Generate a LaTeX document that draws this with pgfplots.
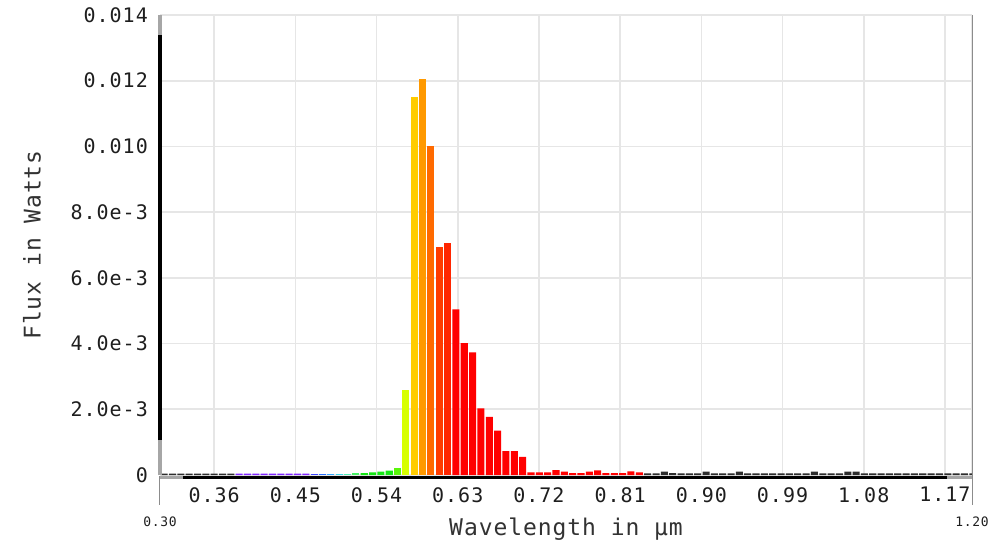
\documentclass[border=0pt]{standalone}
\usepackage{pgfplots}
\pgfplotsset{compat=1.18}
\usepackage{fontspec}
\setmainfont{DejaVu Sans Mono}
\newfontfamily\tickf[LetterSpace=5]{DejaVu Sans Mono}
\newfontfamily\labf[LetterSpace=4]{DejaVu Sans Mono}
\definecolor{gridgray}{RGB}{230,230,230}
\definecolor{tickc}{RGB}{30,30,30}
\definecolor{labc}{RGB}{50,50,50}
\definecolor{cdark}{RGB}{45,45,45}
\definecolor{cviolet}{RGB}{130,40,255}
\definecolor{cblueA}{RGB}{60,70,255}
\definecolor{cblueB}{RGB}{40,110,255}
\definecolor{csky}{RGB}{50,165,255}
\definecolor{ccyan}{RGB}{60,215,230}
\definecolor{caqua}{RGB}{80,240,180}
\definecolor{clgreen}{RGB}{70,240,100}
\definecolor{cgreen}{RGB}{20,230,20}
\definecolor{clime}{RGB}{90,245,10}
\definecolor{cyg}{RGB}{215,255,0}
\definecolor{cyel}{RGB}{255,204,0}
\definecolor{corg}{RGB}{255,153,0}
\definecolor{cdorg}{RGB}{255,106,0}
\definecolor{cro}{RGB}{255,60,0}
\definecolor{cro2}{RGB}{255,38,0}
\definecolor{cred}{RGB}{255,0,0}
\begin{document}
\begin{tikzpicture}
\path[use as bounding box] (-160pt,-69pt) rectangle (830pt,475pt);
\begin{axis}[
  at={(0pt,0pt)}, anchor=south west,
  scale only axis, width=812pt, height=460pt,
  xmin=0.30, xmax=1.20, ymin=0, ymax=0.014,
  axis line style={draw=none},
  major tick length=0pt,
  grid=major,
  grid style={color=gridgray, line width=1.6pt},
  xtick={0.36,0.45,0.54,0.63,0.72,0.81,0.90,0.99,1.08,1.17},
  xticklabels={0.36,0.45,0.54,0.63,0.72,0.81,0.90,0.99,1.08,1.17},
  extra x ticks={1.2}, extra x tick labels={},
  ytick={0,0.002,0.004,0.006,0.008,0.010,0.012,0.014},
  yticklabels={0,2.0e-3,4.0e-3,6.0e-3,8.0e-3,0.010,0.012,0.014},
  scaled y ticks=false, scaled x ticks=false,
  xticklabel style={font=\tickf\fontsize{20}{24}\selectfont, text=tickc, anchor=north, inner sep=0pt, yshift=-12pt},
  yticklabel style={font=\tickf\fontsize{20}{24}\selectfont, text=tickc, anchor=east, inner sep=0pt, xshift=-12pt},
  ybar, bar width=0.0078, bar shift=0pt,
]
\addplot[fill=cdark, draw=none] coordinates {(0.3046,4e-5) (0.3139,4e-5) (0.3231,4e-5) (0.3323,4e-5) (0.3416,4e-5) (0.3508,4e-5) (0.3600,4e-5) (0.3693,4e-5) (0.3785,4e-5)};
\addplot[fill=cviolet, draw=none] coordinates {(0.3878,4e-5) (0.3970,4e-5) (0.4062,4e-5) (0.4155,4e-5) (0.4247,4e-5) (0.4340,4e-5) (0.4432,4e-5) (0.4524,4e-5) (0.4617,4e-5)};
\addplot[fill=cblueA, draw=none] coordinates {(0.4709,4e-5)};
\addplot[fill=cblueB, draw=none] coordinates {(0.4802,4e-5)};
\addplot[fill=csky, draw=none] coordinates {(0.4894,4e-5)};
\addplot[fill=ccyan, draw=none] coordinates {(0.4986,4e-5)};
\addplot[fill=caqua, draw=none] coordinates {(0.5079,4e-5)};
\addplot[fill=clgreen, draw=none] coordinates {(0.5171,5e-5)};
\addplot[fill=cgreen, draw=none] coordinates {(0.5264,6e-5) (0.5356,8e-5) (0.5448,1.0e-4) (0.5541,1.3e-4)};
\addplot[fill=clime, draw=none] coordinates {(0.5633,2.0e-4)};
\addplot[fill=cyg, draw=none] coordinates {(0.5726,0.00259)};
\addplot[fill=cyel, draw=none] coordinates {(0.5818,0.01149)};
\addplot[fill=corg, draw=none] coordinates {(0.5910,0.01205)};
\addplot[fill=cdorg, draw=none] coordinates {(0.6003,0.01002)};
\addplot[fill=cro, draw=none] coordinates {(0.6095,0.00693)};
\addplot[fill=cro2, draw=none] coordinates {(0.6188,0.00707)};
\addplot[fill=cred, draw=none] coordinates {(0.6280,0.00504) (0.6372,0.00401) (0.6465,0.00373) (0.6557,0.00203) (0.6650,0.00177) (0.6742,0.00135) (0.6834,0.00073) (0.6927,0.00073) (0.7019,0.00055) (0.7112,8e-5) (0.7204,8e-5) (0.7296,8e-5) (0.7389,1.5e-4) (0.7481,1.0e-4) (0.7574,6e-5) (0.7666,6e-5) (0.7758,1.0e-4) (0.7851,1.4e-4) (0.7943,6e-5) (0.8036,6e-5) (0.8128,6e-5) (0.8220,1.1e-4) (0.8313,8e-5)};
\addplot[fill=cdark, draw=none] coordinates {(0.8405,5e-5) (0.8498,5e-5) (0.8590,1.0e-4) (0.8682,6e-5) (0.8775,5e-5) (0.8867,5e-5) (0.8960,5e-5) (0.9052,1.0e-4) (0.9144,5e-5) (0.9237,5e-5) (0.9329,5e-5) (0.9422,1.0e-4) (0.9514,5e-5) (0.9606,5e-5) (0.9699,5e-5) (0.9791,5e-5) (0.9884,5e-5) (0.9976,5e-5) (1.0068,5e-5) (1.0161,5e-5) (1.0253,1.0e-4) (1.0346,5e-5) (1.0438,5e-5) (1.0530,5e-5) (1.0623,1.0e-4) (1.0715,1.0e-4) (1.0808,5e-5) (1.0900,5e-5) (1.0992,5e-5) (1.1085,5e-5) (1.1177,5e-5) (1.1270,5e-5) (1.1362,5e-5) (1.1454,5e-5) (1.1547,5e-5) (1.1639,5e-5) (1.1732,5e-5) (1.1824,5e-5) (1.1916,5e-5) (1.2009,5e-5)};
\end{axis}
% axis lines and decorations
\draw[black!35, line width=3pt] (0pt,0pt) -- (0pt,460pt);
\draw[black, line width=3pt] (0pt,35pt) -- (0pt,440pt);
\draw[black!35, line width=3pt] (0pt,-2.5pt) -- (812pt,-2.5pt);
\draw[black, line width=3pt] (23pt,-2.5pt) -- (787pt,-2.5pt);
\draw[black!45, line width=1pt] (0pt,-1pt) -- (0pt,-30pt);
\draw[black!45, line width=1pt] (812pt,460pt) -- (812pt,-30pt);
\node[font=\tickf\fontsize{13}{15}\selectfont, text=tickc] at (0pt,-47pt) {0.30};
\node[font=\tickf\fontsize{13}{15}\selectfont, text=tickc] at (812pt,-47pt) {1.20};
\node[font=\labf\fontsize{23}{27}\selectfont, text=labc] at (406pt,-54pt) {Wavelength in µm};
\node[font=\labf\fontsize{23}{27}\selectfont, text=labc, rotate=90] at (-128pt,230pt) {Flux in Watts};
\end{tikzpicture}
\end{document}
